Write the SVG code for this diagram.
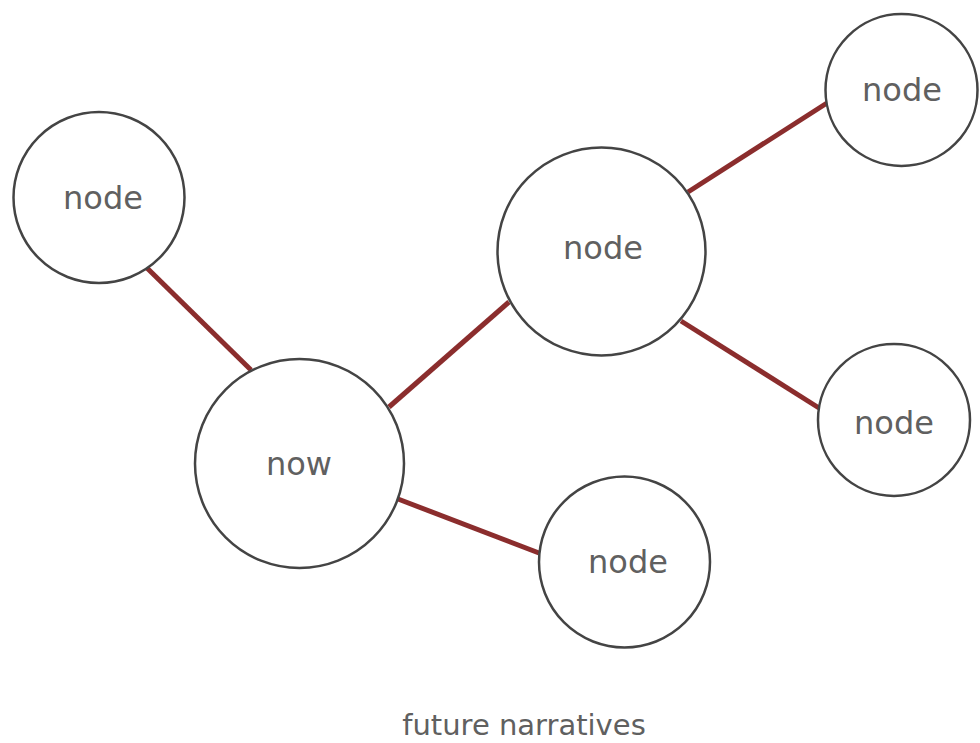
<svg xmlns="http://www.w3.org/2000/svg" width="980" height="743" viewBox="0 0 980 743">
<style>
.n{fill:#fff;stroke:#444;stroke-width:2.5}
.t{font-family:"DejaVu Sans",sans-serif;font-size:32px;fill:#606060;text-anchor:middle}
.e{stroke:#8b2d2d;stroke-width:5;stroke-linecap:butt}
</style>
<rect width="980" height="743" fill="#fff"/>
<g id="edges">
<line class="e" x1="147" y1="268" x2="251" y2="370"/>
<line class="e" x1="389" y1="407" x2="509" y2="302"/>
<line class="e" x1="398" y1="499" x2="539" y2="553"/>
<line class="e" x1="688" y1="192" x2="827" y2="103"/>
<line class="e" x1="681" y1="321" x2="819" y2="408"/>
</g>
<g id="node-left"><circle class="n" cx="99" cy="197.5" r="85.5"/><text class="t" x="103" y="209">node</text></g>
<g id="node-now"><circle class="n" cx="299.5" cy="463.5" r="104.5"/><text class="t" x="299" y="475">now</text></g>
<g id="node-mid"><circle class="n" cx="601.5" cy="251.5" r="104"/><text class="t" x="603" y="259">node</text></g>
<g id="node-topright"><circle class="n" cx="901.5" cy="90" r="76"/><text class="t" x="902" y="101">node</text></g>
<g id="node-right"><circle class="n" cx="894" cy="420" r="76"/><text class="t" x="894" y="434">node</text></g>
<g id="node-bottom"><circle class="n" cx="624.5" cy="562" r="85.5"/><text class="t" x="628" y="573">node</text></g>
<text x="524" y="735" style="font-family:'DejaVu Sans',sans-serif;font-size:29px;fill:#606060;text-anchor:middle">future narratives</text>
</svg>
